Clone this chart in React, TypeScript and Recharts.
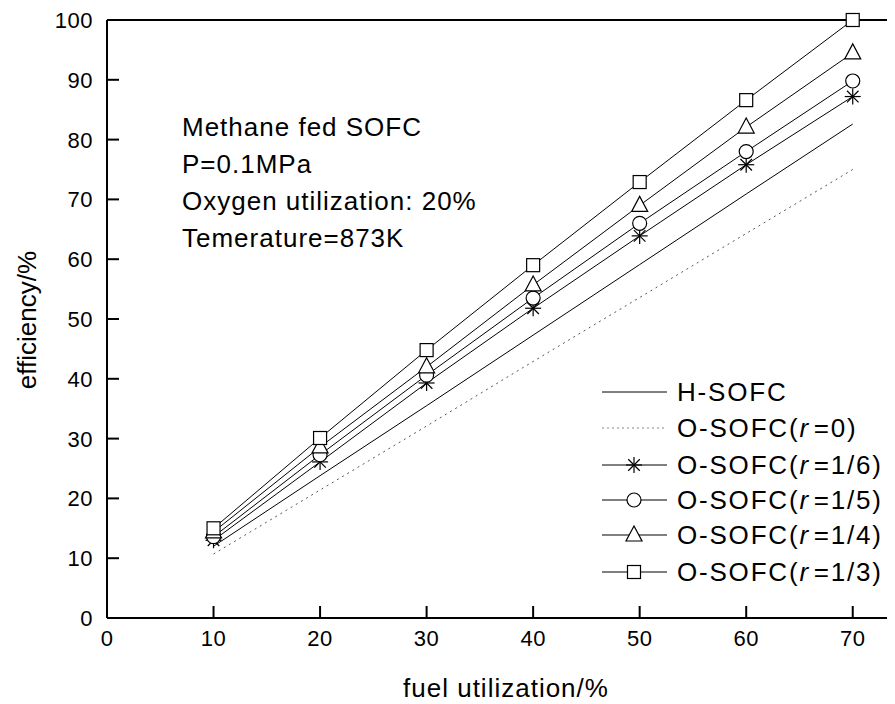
import { LineChart, Line, XAxis, YAxis, ReferenceLine } from "recharts";

const fuelUtil = [10, 20, 30, 40, 50, 60, 70];
const hSofc = [12, 23.8, 35.5, 47.3, 59.1, 70.9, 82.6];
const oSofcR0 = [10.7, 21.4, 32.1, 42.9, 53.6, 64.3, 75];
const oSofcR16 = [13, 26.1, 39.3, 51.8, 63.9, 75.8, 87.2];
const oSofcR15 = [13.6, 27.3, 40.6, 53.5, 66, 78, 89.8];
const oSofcR14 = [14.4, 28.6, 42, 55.7, 69, 82.1, 94.5];
const oSofcR13 = [15, 30.1, 44.8, 59, 72.9, 86.6, 100];

const xTicks = [0, 10, 20, 30, 40, 50, 60, 70];
const yTicks = [0, 10, 20, 30, 40, 50, 60, 70, 80, 90, 100];

const notes = ["Methane fed SOFC", "P=0.1MPa", "Oxygen utilization: 20%", "Temerature=873K"];

const data = fuelUtil.map((x, i) => ({
  x,
  h: hSofc[i],
  r0: oSofcR0[i],
  r16: oSofcR16[i],
  r15: oSofcR15[i],
  r14: oSofcR14[i],
  r13: oSofcR13[i],
}));

const FONT = '"Liberation Sans", Arial, sans-serif';

type Shape = "none" | "star" | "circle" | "triangle" | "square";

function Marker({ cx, cy, shape }: { cx: number; cy: number; shape: Shape }) {
  const s = { fill: "#fff", stroke: "#000", strokeWidth: 1.2 };
  if (shape === "star") {
    const r = 8;
    const d = r * 0.72;
    return (
      <g stroke="#000" strokeWidth={1.2}>
        <line x1={cx - r} y1={cy} x2={cx + r} y2={cy} />
        <line x1={cx} y1={cy - r} x2={cx} y2={cy + r} />
        <line x1={cx - d} y1={cy - d} x2={cx + d} y2={cy + d} />
        <line x1={cx - d} y1={cy + d} x2={cx + d} y2={cy - d} />
      </g>
    );
  }
  if (shape === "circle") return <circle cx={cx} cy={cy} r={7} {...s} />;
  if (shape === "triangle")
    return <polygon points={`${cx},${cy - 9} ${cx - 8},${cy + 6} ${cx + 8},${cy + 6}`} {...s} />;
  if (shape === "square") return <rect x={cx - 6.5} y={cy - 6.5} width={13} height={13} {...s} />;
  return null;
}

const dotFor = (shape: Shape) => (p: any) => (
  <Marker key={`${shape}-${p.index}`} cx={p.cx} cy={p.cy} shape={shape} />
);

const XTick = (p: any) => (
  <g>
    <line x1={p.x} y1={p.y} x2={p.x} y2={p.y - 12} stroke="#000" strokeWidth={2} />
    <text x={p.x} y={p.y + 28} textAnchor="middle" fontSize={22} letterSpacing={0.5} fontFamily={FONT} fill="#000">
      {p.payload.value}
    </text>
  </g>
);

const YTick = (p: any) => (
  <g>
    <line x1={p.x} y1={p.y} x2={p.x + 12} y2={p.y} stroke="#000" strokeWidth={2} />
    <text x={p.x - 14} y={p.y + 8} textAnchor="end" fontSize={22} letterSpacing={0.5} fontFamily={FONT} fill="#000">
      {p.payload.value}
    </text>
  </g>
);

const legendItems: { label: string; r?: string; shape: Shape; dashed?: boolean }[] = [
  { label: "H-SOFC", shape: "none" },
  { label: "O-SOFC(", r: "=0)", shape: "none", dashed: true },
  { label: "O-SOFC(", r: "=1/6)", shape: "star" },
  { label: "O-SOFC(", r: "=1/5)", shape: "circle" },
  { label: "O-SOFC(", r: "=1/4)", shape: "triangle" },
  { label: "O-SOFC(", r: "=1/3)", shape: "square" },
];
const legendY = [384, 420, 457, 492, 527, 564];

export default function App() {
  return (
    <div style={{ position: "relative", width: 887, height: 696, overflow: "hidden" }}>
      <LineChart width={920} height={696} data={data} margin={{ top: 12, right: 22, bottom: 85, left: 98 }}>
        <XAxis
          type="number"
          dataKey="x"
          domain={[0, 75]}
          ticks={xTicks}
          height={1}
          tickSize={0}
          tickMargin={0}
          tickLine={false}
          tick={XTick}
          interval={0}
          axisLine={{ stroke: "#000", strokeWidth: 2 }}
        />
        <YAxis
          type="number"
          domain={[0, 100]}
          ticks={yTicks}
          width={1}
          tickSize={0}
          tickMargin={0}
          tickLine={false}
          tick={YTick}
          interval={0}
          axisLine={{ stroke: "#000", strokeWidth: 2 }}
        />
        <ReferenceLine y={100} stroke="#000" strokeWidth={2} />
        <Line dataKey="h" stroke="#000" strokeWidth={1} dot={false} isAnimationActive={false} />
        <Line dataKey="r0" stroke="#555" strokeWidth={1} strokeDasharray="2 4" dot={false} isAnimationActive={false} />
        <Line dataKey="r16" stroke="#000" strokeWidth={1} dot={dotFor("star")} isAnimationActive={false} />
        <Line dataKey="r15" stroke="#000" strokeWidth={1} dot={dotFor("circle")} isAnimationActive={false} />
        <Line dataKey="r14" stroke="#000" strokeWidth={1} dot={dotFor("triangle")} isAnimationActive={false} />
        <Line dataKey="r13" stroke="#000" strokeWidth={1} dot={dotFor("square")} isAnimationActive={false} />
      </LineChart>
      <svg
        width={887}
        height={696}
        style={{ position: "absolute", left: 0, top: 0, pointerEvents: "none" }}
        fontFamily={FONT}
      >
        {notes.map((t, i) => (
          <text key={t} x={174} y={128 + i * 37} fontSize={26} letterSpacing={1} fill="#000">
            {t}
          </text>
        ))}
        {legendItems.map((it, i) => {
          const y = legendY[i];
          return (
            <g key={i}>
              <line
                x1={594}
                y1={y}
                x2={659}
                y2={y}
                stroke={it.dashed ? "#888" : "#000"}
                strokeWidth={1}
                strokeDasharray={it.dashed ? "2 3" : undefined}
              />
              <Marker cx={626} cy={y} shape={it.shape} />
              <text x={669} y={y + 9} fontSize={26} letterSpacing={1.8} fill="#000">
                {it.label}
                {it.r && (
                  <>
                    <tspan fontStyle="italic">r</tspan>
                    <tspan dx={4}>{it.r}</tspan>
                  </>
                )}
              </text>
            </g>
          );
        })}
        <text x={498} y={689} textAnchor="middle" fontSize={26} letterSpacing={1} fill="#000">
          fuel utilization/%
        </text>
        <text
          transform="translate(28,312) rotate(-90)"
          textAnchor="middle"
          fontSize={26}
          fill="#000"
        >
          efficiency/%
        </text>
      </svg>
    </div>
  );
}
